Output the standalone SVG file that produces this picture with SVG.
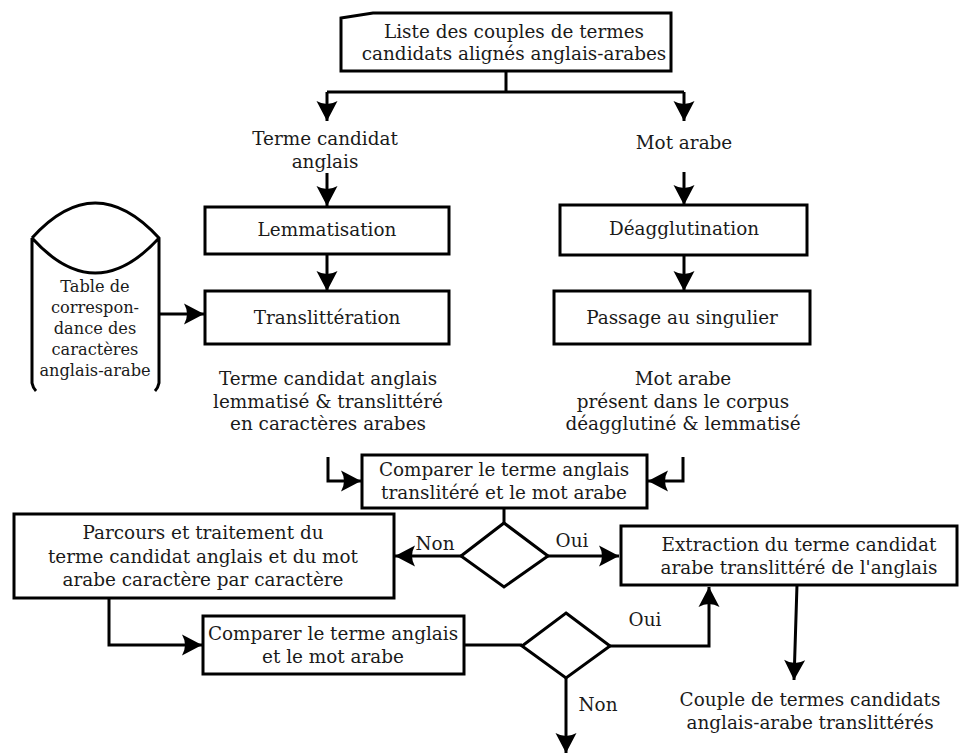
<svg xmlns="http://www.w3.org/2000/svg" width="963" height="755" viewBox="0 0 963 755">
<style>
.box{fill:#fff;stroke:#000;stroke-width:3}
.shape{fill:#fff;stroke:#000;stroke-width:3}
.ln{fill:none;stroke:#000;stroke-width:3}
.arr{fill:none;stroke:#000;stroke-width:3;marker-end:url(#ah)}
text{font-family:"DejaVu Serif","Liberation Serif",serif;font-size:18.4px;fill:#1a1a1a;text-anchor:middle}
text.sm{font-size:16.2px}
</style>
<defs>
<marker id="ah" markerUnits="userSpaceOnUse" markerWidth="24" markerHeight="24" viewBox="-22 -12 24 24" refX="0" refY="0" orient="auto">
<path d="M0,0 L-20,-10.5 Q-14,0 -20,10.5 Z" fill="#000"/>
</marker>
</defs>
<rect width="963" height="755" fill="#fff"/>
<g id="connectors">
<path class="ln" d="M506,71 V92 M327,92 H684"/>
<path class="arr" d="M327,92 V121"/>
<path class="arr" d="M684,92 V121"/>
<path class="arr" d="M327,173 V206"/>
<path class="arr" d="M684,172 V205"/>
<path class="arr" d="M327,254 V291"/>
<path class="arr" d="M684,255 V291"/>
<path class="arr" d="M160,314 H204"/>
<path class="arr" d="M328,457 V481 H361"/>
<path class="arr" d="M683,457 V481 H648"/>
<path class="ln" d="M504,508 V523"/>
<path class="arr" d="M461,556 H395"/>
<path class="arr" d="M548,556 H619"/>
<path class="arr" d="M109,598 V645 H202"/>
<path class="ln" d="M464,645 H522"/>
<path class="arr" d="M610,646 H709 V587"/>
<path class="arr" d="M566,678 V753"/>
<path class="arr" d="M797,585 L794,680"/>
<text x="435" y="550">Non</text>
<text x="572" y="547">Oui</text>
<text x="645" y="626">Oui</text>
<text x="598" y="711">Non</text>
</g>
<g id="n-liste">
<path class="shape" d="M341,18 L373,13 H671 V71 H341 Z"/>
<text x="514" y="38">Liste des couples de termes</text>
<text x="514" y="60">candidats alignés anglais-arabes</text>
</g>
<g id="n-terme">
<text x="325" y="145">Terme candidat</text>
<text x="325" y="168">anglais</text>
</g>
<g id="n-motarabe">
<text x="684" y="149">Mot arabe</text>
</g>
<g id="n-lemma">
<rect class="box" x="205" y="207" width="244" height="47"/>
<text x="327" y="236">Lemmatisation</text>
</g>
<g id="n-deagg">
<rect class="box" x="560" y="205" width="247" height="50"/>
<text x="684" y="235">Déagglutination</text>
</g>
<g id="n-translit">
<rect class="box" x="205" y="291" width="244" height="53"/>
<text x="327" y="324">Translittération</text>
</g>
<g id="n-passage">
<rect class="box" x="554" y="291" width="256" height="53"/>
<text x="682" y="324">Passage au singulier</text>
</g>
<g id="n-table">
<path class="shape" d="M32,238 Q95,168 159,238 L159,383 Q158,388 155,391 M32,238 Q95,308 159,238 M32,238 L32,383 Q33,388 36,391"/>
<text class="sm" x="95" y="292">Table de</text>
<text class="sm" x="95" y="313">correspon-</text>
<text class="sm" x="95" y="334">dance des</text>
<text class="sm" x="95" y="355">caractères</text>
<text class="sm" x="95" y="376">anglais-arabe</text>
</g>
<g id="n-terme-lemma">
<text x="328" y="385">Terme candidat anglais</text>
<text x="328" y="408">lemmatisé &amp; translittéré</text>
<text x="328" y="430">en caractères arabes</text>
</g>
<g id="n-mot-present">
<text x="683" y="385">Mot arabe</text>
<text x="683" y="408">présent dans le corpus</text>
<text x="683" y="430">déagglutiné &amp; lemmatisé</text>
</g>
<g id="n-compare1">
<rect class="box" x="362" y="455" width="285" height="53"/>
<text x="504" y="476">Comparer le terme anglais</text>
<text x="504" y="499">translitéré et le mot arabe</text>
</g>
<g id="n-diamond1">
<path class="shape" d="M504,523 L548,556 L504,587 L461,556 Z"/>
</g>
<g id="n-parcours">
<rect class="box" x="14" y="514" width="380" height="84"/>
<text x="203" y="539">Parcours et traitement du</text>
<text x="203" y="563">terme candidat anglais et du mot</text>
<text x="203" y="586">arabe caractère par caractère</text>
</g>
<g id="n-extraction">
<rect class="box" x="621" y="526" width="336" height="59"/>
<text x="799" y="551">Extraction du terme candidat</text>
<text x="799" y="574">arabe translittéré de l'anglais</text>
</g>
<g id="n-compare2">
<rect class="box" x="203" y="616" width="261" height="58"/>
<text x="333" y="640">Comparer le terme anglais</text>
<text x="333" y="663">et le mot arabe</text>
</g>
<g id="n-diamond2">
<path class="shape" d="M566,613 L610,646 L566,678 L522,646 Z"/>
</g>
<g id="n-couple">
<text x="810" y="706">Couple de termes candidats</text>
<text x="810" y="729">anglais-arabe translittérés</text>
</g>
</svg>
